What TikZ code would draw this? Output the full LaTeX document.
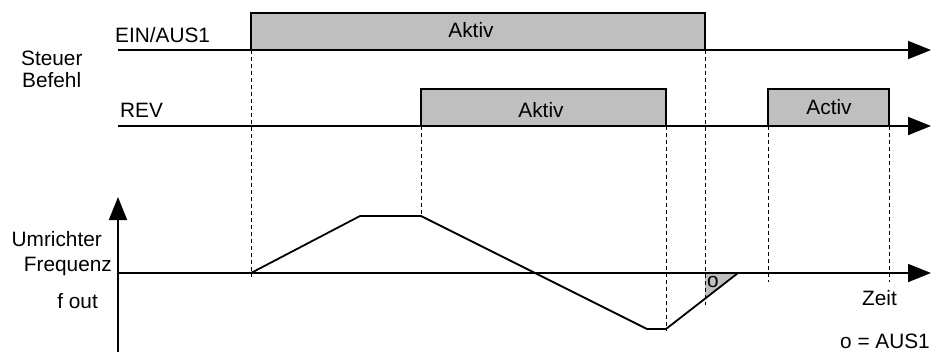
\documentclass[tikz,border=0pt]{standalone}
\usepackage{fontspec}
\setmainfont{Liberation Sans}
\usetikzlibrary{arrows.meta}
\begin{document}
\begin{tikzpicture}[x=1pt,y=-1pt,
  every node/.style={font=\fontsize{20.8}{25}\selectfont, inner sep=0pt},
  axis/.style={line width=1.8pt, -{Triangle[length=23pt,width=18pt]}},
  signal/.style={line width=1.8pt},
  active/.style={draw, line width=1.4pt, fill=black!25},
  guide/.style={line width=0.9pt, dash pattern=on 4pt off 3pt},
  lbl/.style={anchor=base west}]
\useasboundingbox (0,0) rectangle (936,354);

% time axes of the two control signals and the frequency axis
\coordinate (t1s) at (118,50);  \coordinate (t1e) at (931,50);
\coordinate (t2s) at (118,126); \coordinate (t2e) at (931,126);
\coordinate (fs)  at (118,273); \coordinate (fe)  at (931,273);
\coordinate (ys)  at (118,352); \coordinate (ye)  at (118,197);

% active phases
\filldraw[active] (251,50) -- (251,13) -- (705,13) -- (705,50);
\filldraw[active] (421,126) -- (421,89) -- (666,89) -- (666,126);
\filldraw[active] (768,126) -- (768,89) -- (889,89) -- (889,126);

\draw[axis] (t1s) -- (t1e);
\draw[axis] (t2s) -- (t2e);

% output frequency profile
\coordinate (p0) at (251,273);
\coordinate (p1) at (360,216);
\coordinate (p2) at (421,216);
\coordinate (p3) at (647,329);
\coordinate (p4) at (666,329);
\coordinate (p5) at (738,273);
\coordinate (q)  at (705,298);
\fill[black!25] (705,273) -- (q) -- (p5) -- cycle;
\draw[axis] (fs) -- (fe);
\draw[axis] (ys) -- (ye);
\draw[signal, line join=round] (p0) -- (p1) -- (p2) -- (p3) -- (p4) -- (p5);

% vertical guide lines
\draw[guide] (251,50) -- (251,277);
\draw[guide] (421,126) -- (p2);
\draw[guide] (666,126) -- (666,331);
\draw[guide] (705,50) -- (705,305);
\draw[guide] (768,126) -- (768,282);
\draw[guide] (889,126) -- (889,282);

% texts
\node[lbl] (steuer) at (21,65) {Steuer};
\node[lbl] (befehl) at (22,87) {Befehl};
\node[lbl] (ein) at (115,42) {EIN/AUS1};
\node[lbl] (rev) at (120,117) {REV};
\node[anchor=base] (a1) at (471,37) {Aktiv};
\node[anchor=base] (a2) at (541,117) {Aktiv};
\node[anchor=base] (a3) at (829,114) {Activ};
\node[anchor=base east] (umr) at (102,246) {Umrichter};
\node[anchor=base east] (freq) at (112,271) {Frequenz};
\node[anchor=base east] (fout) at (98,308) {f out};
\node[lbl] (o) at (707,287) {o};
\node[lbl] (zeit) at (862,305) {Zeit};
\node[anchor=base east] (leg) at (930,348) {o = AUS1};
\end{tikzpicture}
\end{document}
